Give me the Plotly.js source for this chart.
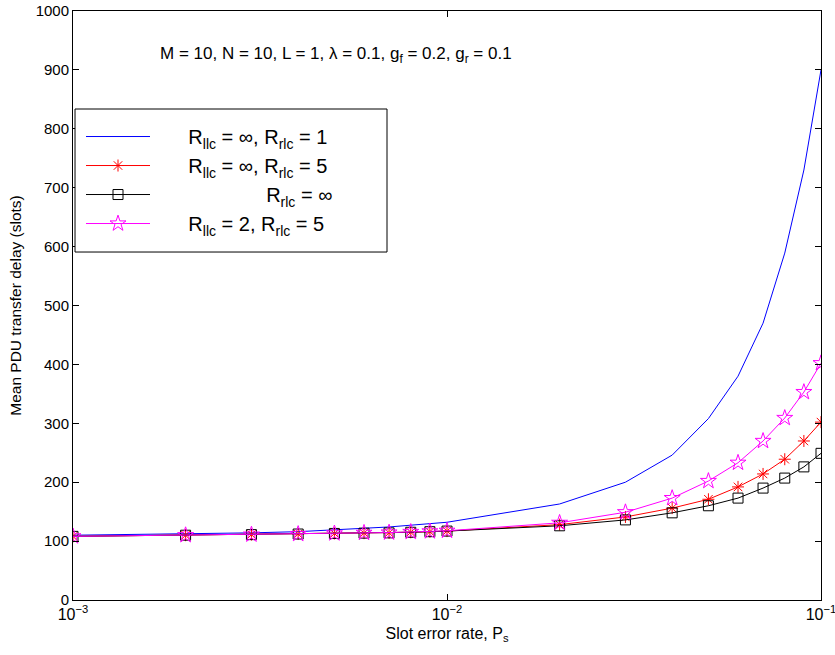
<!DOCTYPE html>
<html>
<head>
<meta charset="utf-8">
<script src="https://cdn.plot.ly/plotly-3.0.1.min.js"></script>
<style>html,body{margin:0;padding:0;background:#fff;}#chart{width:835px;height:655px;}</style>
</head>
<body>
<div id="chart"></div>
<script>
// Slot error rate values
const ps = [0.001,0.002,0.003,0.004,0.005,0.006,0.007,0.008,0.009,0.01,
            0.02,0.03,0.04,0.05,0.06,0.07,0.08,0.09,0.1];
// Mean PDU transfer delay (slots)
const delayInfRlc1 = [110,112,114,116,119,121,124,127,129,132,163,200,246,308,380,470,589,730,900];
const delayInfRlc5 = [108,110,111,112,113,113.5,114,115,116,117,128,141,156,171,192,214,239,270,302];
const delayRlcInf  = [108,110,111,112,113,113.5,114,115,116,117,126,136,148,160,173,190,207,226,249];
const delay2Rlc5   = [108,110,111,112,113,114,114.5,115.5,116.5,117.5,131,149,173,202,233,270,309,353,402];

const pad = n => '\u00a0'.repeat(n);
const legendNames = [
  pad(6) + 'R<sub>llc</sub> = ∞, R<sub>rlc</sub> = 1',
  pad(6) + 'R<sub>llc</sub> = ∞, R<sub>rlc</sub> = 5',
  pad(20) + 'R<sub>rlc</sub> = ∞',
  pad(6) + 'R<sub>llc</sub> = 2, R<sub>rlc</sub> = 5'
];
const xTickVals = [0.001, 0.01, 0.1];
const xTickText = ['10<sup>−3</sup>', '10<sup>−2</sup>', '10<sup>−1</sup>'];

const traces = [
  {x: ps, y: delayInfRlc1, name: legendNames[0], mode: 'lines',
   line: {color: '#0000ff', width: 1}},
  {x: ps, y: delayInfRlc5, name: legendNames[1], mode: 'lines+markers',
   line: {color: '#ff0000', width: 1},
   marker: {symbol: 'asterisk-open', size: 10, color: '#ff0000', line: {color: '#ff0000', width: 1}}},
  {x: ps, y: delayRlcInf, name: legendNames[2], mode: 'lines+markers',
   line: {color: '#000000', width: 1},
   marker: {symbol: 'square-open', size: 10, color: '#000000', line: {color: '#000000', width: 1}}},
  {x: ps, y: delay2Rlc5, name: legendNames[3], mode: 'lines+markers',
   line: {color: '#ff00ff', width: 1},
   marker: {symbol: 'star-open', size: 12, color: '#ff00ff', line: {color: '#ff00ff', width: 1}}}
];

const font = 'Liberation Sans, Arial, Helvetica, sans-serif';
const layout = {
  width: 835, height: 655,
  margin: {l: 73, r: 14, t: 11, b: 55},
  paper_bgcolor: '#fff', plot_bgcolor: '#fff',
  font: {family: font, size: 14, color: '#000'},
  showlegend: true,
  legend: {
    x: 0.0107, y: 0.820, xanchor: 'left', yanchor: 'top',
    bgcolor: 'rgba(0,0,0,0)', borderwidth: 0,
    font: {family: font, size: 20, color: '#000'},
    itemwidth: 64, tracegroupgap: 0
  },
  shapes: [{
    type: 'rect', xref: 'paper', yref: 'paper',
    x0: 0.0027, x1: 0.4198, y0: 0.5908, y1: 0.8336,
    line: {color: '#000', width: 1}, fillcolor: '#fff', layer: 'above'
  }],
  xaxis: {
    type: 'log', range: [-3.00001, -0.99999],
    tickvals: xTickVals, ticktext: xTickText,
    ticks: 'inside', ticklen: 6, tickcolor: '#000',
    ticklabeloverflow: 'allow',
    showline: true, linecolor: '#000', linewidth: 1, mirror: 'ticks',
    showgrid: false, zeroline: false,
    tickfont: {family: font, size: 16},
    title: {text: 'Slot error rate, P<sub>s</sub>', font: {family: font, size: 16}, standoff: 5}
  },
  yaxis: {
    range: [0, 1000], dtick: 100,
    ticks: 'inside', ticklen: 6, tickcolor: '#000',
    showline: true, linecolor: '#000', linewidth: 1, mirror: 'ticks',
    showgrid: false, zeroline: false,
    tickfont: {family: font, size: 15},
    title: {text: 'Mean PDU transfer delay (slots)', font: {family: font, size: 15.5}, standoff: 10}
  },
  annotations: [{
    xref: 'paper', yref: 'paper', x: 0.352, y: 0.925,
    xanchor: 'center', yanchor: 'middle', showarrow: false,
    text: 'M = 10, N = 10, L = 1, λ = 0.1, g<sub>f</sub> = 0.2, g<sub>r</sub> = 0.1',
    font: {family: font, size: 17, color: '#000'}
  }]
};

Plotly.newPlot('chart', traces, layout, {displayModeBar: false, staticPlot: true});
</script>
</body>
</html>
